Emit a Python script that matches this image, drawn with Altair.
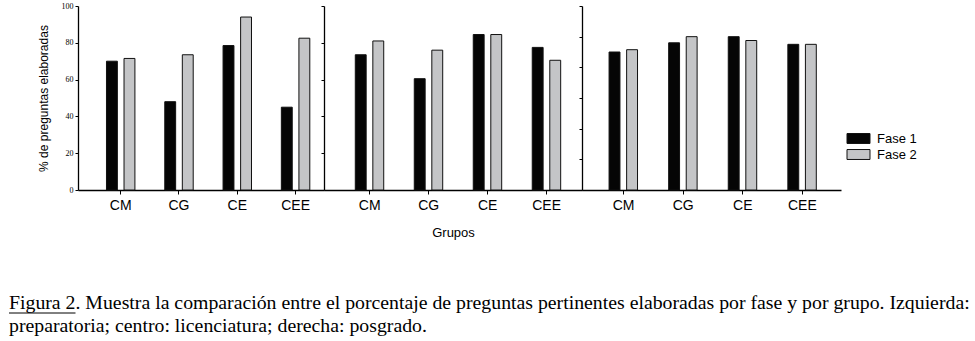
import altair as alt
import pandas as pd

grupos = ["CM", "CG", "CE", "CEE"]
fases = ["Fase 1", "Fase 2"]

# preparatoria (izquierda)
prep_f1 = [70, 48, 78.5, 45]
prep_f2 = [71.5, 73.5, 94, 82.5]
# licenciatura (centro)
lic_f1 = [73.5, 60.5, 84.5, 77.5]
lic_f2 = [81, 76, 84.5, 70.5]
# posgrado (derecha)
pos_f1 = [90, 96, 100, 95]
pos_f2 = [91.5, 100, 97.5, 95]

y_title = "% de preguntas elaboradas"
x_title = "Grupos"
caption = [
    "Figura 2. Muestra la comparación entre el porcentaje de preguntas pertinentes elaboradas por fase y por grupo. Izquierda:",
    "preparatoria; centro: licenciatura; derecha: posgrado.",
]


def frame(f1, f2):
    rows = []
    for g, a, b in zip(grupos, f1, f2):
        rows.append({"grupo": g, "fase": "Fase 1", "valor": a})
        rows.append({"grupo": g, "fase": "Fase 2", "valor": b})
    return pd.DataFrame(rows)


color = alt.Color(
    "fase:N",
    scale=alt.Scale(domain=fases, range=["#050505", "#c4c5c7"]),
    legend=alt.Legend(
        title=None,
        orient="none",
        legendX=772,
        legendY=124,
        symbolType="M-1.5,-0.65L1.5,-0.65L1.5,0.65L-1.5,0.65Z",
        symbolSize=235,
        symbolStrokeColor="#111",
        symbolStrokeWidth=1,
        symbolOpacity=1,
        labelFont="Liberation Sans",
        labelFontSize=13,
        labelColor="black",
        labelOffset=10,
        rowPadding=0,
        padding=0,
    ),
)


def panel(f1, f2, width, po, align, ymax, show_labels, xtitle):
    df = frame(f1, f2)
    yaxis = alt.Axis(
        values=list(range(0, ymax + 1, 20)),
        labels=show_labels,
        title=y_title if show_labels else None,
        grid=False,
        tickSize=3,
        labelFont="Liberation Serif",
        labelFontSize=8,
        labelColor="black",
        labelPadding=2,
        titleFont="Liberation Sans",
        titleFontSize=12,
        titleFontWeight="normal",
        titleColor="black",
        titlePadding=11,
        domainColor="black",
        domainWidth=1.3,
        tickColor="black",
    )
    xaxis = alt.Axis(
        title=xtitle,
        labelAngle=0,
        tickSize=4,
        labelFont="Liberation Sans",
        labelFontSize=14,
        labelColor="black",
        labelPadding=4,
        titleFont="Liberation Sans",
        titleFontSize=13,
        titleFontWeight="normal",
        titleColor="black",
        titlePadding=14,
        domainColor="black",
        domainWidth=1.3,
        tickColor="black",
    )
    return (
        alt.Chart(df)
        .mark_bar(stroke="#111", strokeWidth=1)
        .encode(
            x=alt.X(
                "grupo:N",
                sort=grupos,
                axis=xaxis,
                scale=alt.Scale(paddingInner=0.5, paddingOuter=po, align=align),
            ),
            xOffset=alt.XOffset(
                "fase:N",
                sort=fases,
                scale=alt.Scale(paddingInner=0.38, paddingOuter=0.02),
            ),
            y=alt.Y(
                "valor:Q",
                axis=yaxis,
                scale=alt.Scale(domain=[0, ymax], nice=False, zero=True),
            ),
            color=color,
        )
        .properties(width=width, height=184)
    )


p1 = panel(prep_f1, prep_f2, 246, 0.36, 0.67, 100, True, None)
cap_df = pd.DataFrame({"k": [0]})
caption_text = alt.Chart(cap_df).mark_text(
    align="left",
    baseline="alphabetic",
    font="Liberation Serif",
    fontSize=19.8,
    lineHeight=23,
    color="black",
).encode(x=alt.value(-69), y=alt.value(303), text=alt.value(caption))
# underline of "Figura 2" in the caption (text decoration)
underline = alt.Chart(cap_df).mark_rule(color="black", strokeWidth=1).encode(
    x=alt.value(-69), x2=alt.value(-2.5), y=alt.value(307)
)
p1 = alt.layer(p1, caption_text, underline)
p2 = panel(lic_f1, lic_f2, 258, 0.437, 0.6, 100, False, x_title)
p3 = panel(pos_f1, pos_f2, 259, 0.423, 0.53, 120, False, None)

chart = (
    alt.hconcat(p1, p2, p3, spacing=0, bounds="flush")
    .properties(padding={"left": 8, "top": 2, "right": 5, "bottom": 5})
    .configure_view(stroke=None)
    .configure_concat(spacing=0)
)

chart.save("out.html", embed_options={"renderer": "svg", "actions": False})
